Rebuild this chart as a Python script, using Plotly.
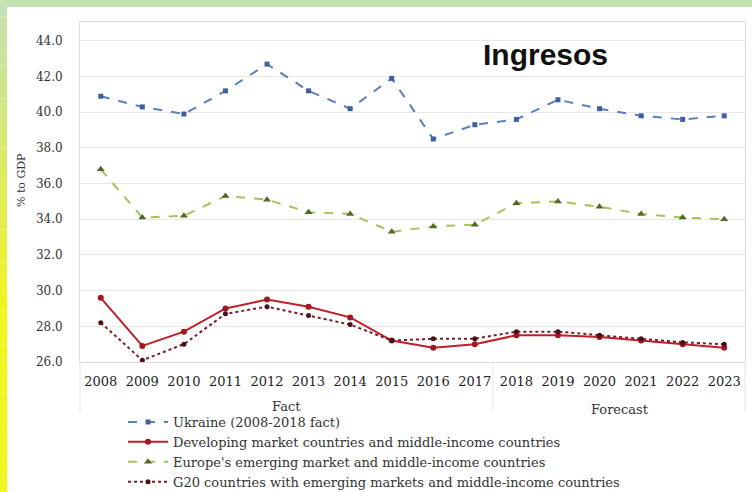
import plotly.graph_objects as go

years = list(range(2008, 2024))
ukraine = [40.9, 40.3, 39.9, 41.2, 42.7, 41.2, 40.2, 41.9, 38.5, 39.3, 39.6, 40.7, 40.2, 39.8, 39.6, 39.8]
developing = [29.6, 26.9, 27.7, 29.0, 29.5, 29.1, 28.5, 27.2, 26.8, 27.0, 27.5, 27.5, 27.4, 27.2, 27.0, 26.8]
europe = [36.8, 34.1, 34.2, 35.3, 35.1, 34.4, 34.3, 33.3, 33.6, 33.7, 34.9, 35.0, 34.7, 34.3, 34.1, 34.0]
g20 = [28.2, 26.1, 27.0, 28.7, 29.1, 28.6, 28.1, 27.2, 27.3, 27.3, 27.7, 27.7, 27.5, 27.3, 27.1, 27.0]
yticks = [26.0, 28.0, 30.0, 32.0, 34.0, 36.0, 38.0, 40.0, 42.0, 44.0]

W, H = 752, 492
L, R, T, B = 80, 7, 22, 130
pw, ph = W - L - R, H - T - B

def px(x):
    return (x - L) / pw

def py(y):
    return (H - B - y) / ph

serif = "DejaVu Serif, Liberation Serif, serif"
fig = go.Figure()
fig.add_trace(go.Scatter(x=years, y=ukraine, name="Ukraine (2008-2018 fact)", mode="lines+markers",
                         line=dict(color="#5b7fbf", width=2, dash="dash"),
                         marker=dict(symbol="square", size=5, color="#3f5f9f")))
fig.add_trace(go.Scatter(x=years, y=developing, name="Developing market countries and middle-income countries",
                         mode="lines+markers", line=dict(color="#c0202a", width=2),
                         marker=dict(symbol="circle", size=6, color="#a01820")))
fig.add_trace(go.Scatter(x=years, y=europe, name="Europe's emerging market and middle-income countries",
                         mode="lines+markers", line=dict(color="#a6c25a", width=2, dash="dash"),
                         marker=dict(symbol="triangle-up", size=7, color="#4f6a26")))
fig.add_trace(go.Scatter(x=years, y=g20, name="G20 countries with emerging markets and middle-income countries",
                         mode="lines+markers", line=dict(color="#7a1c28", width=2, dash="dot"),
                         marker=dict(symbol="circle", size=5, color="#4a1018")))

shapes = []
shapes.append(dict(type="rect", xref="paper", yref="paper", x0=px(0), x1=px(W), y0=py(7), y1=py(0),
                   fillcolor="#c5e2b4", line=dict(width=0)))
n = 30
c0 = (197, 226, 180)
c1 = (242, 244, 30)
for i in range(n):
    t = i / (n - 1)
    tt = min(1.0, t * 1.6)
    c = tuple(int(c0[k] + (c1[k] - c0[k]) * tt) for k in range(3))
    y0 = H * i / n
    y1 = H * (i + 1) / n
    shapes.append(dict(type="rect", xref="paper", yref="paper", x0=px(0), x1=px(7), y0=py(y1), y1=py(y0),
                       fillcolor="rgb(%d,%d,%d)" % c, line=dict(width=0)))
for xx in [80, 493, 745]:
    shapes.append(dict(type="line", xref="paper", yref="paper", x0=px(xx), x1=px(xx), y0=py(362), y1=py(412),
                       line=dict(color="#e4e4e4", width=1)))

def ann(text, x, y, size, family=serif, color="#333333", angle=0):
    return dict(text=text, x=px(x), y=py(y), xref="paper", yref="paper", showarrow=False,
                xanchor="center", yanchor="middle", textangle=angle,
                font=dict(family=family, size=size, color=color))

fig.update_layout(
    width=W, height=H,
    margin=dict(l=L, r=R, t=T, b=B, autoexpand=False),
    paper_bgcolor="white", plot_bgcolor="white",
    font=dict(family=serif, size=13, color="#333333"),
    shapes=shapes,
    showlegend=True,
    legend=dict(x=px(123), y=py(407), xanchor="left", yanchor="top", bgcolor="rgba(0,0,0,0)",
                font=dict(family=serif, size=13, color="#333333"), tracegroupgap=0, itemwidth=40,
                traceorder="normal"),
    annotations=[
        ann("<b>Ingresos</b>", 545, 54, 30, family="Liberation Sans, Arial, sans-serif", color="#111111"),
        ann("Fact", 286, 406, 13),
        ann("Forecast", 620, 409, 13),
        ann("% to GDP", 21, 180, 11, angle=-90),
    ],
)
fig.update_xaxes(range=[2007.5, 2023.5], tickmode="array", tickvals=years, ticktext=[str(y) for y in years],
                 showgrid=False, showline=True, linecolor="#dcdcdc", mirror=True, ticks="", zeroline=False,
                 automargin=False, ticklabelstandoff=7,
                 tickfont=dict(family=serif, size=13, color="#222222"))
fig.update_yaxes(range=[26, 45.06], tickmode="array", tickvals=yticks, ticktext=["%.1f" % v for v in yticks],
                 showgrid=True, gridcolor="#e8e8e8", showline=True, linecolor="#dcdcdc", mirror=True,
                 zeroline=False, ticks="", ticklabelstandoff=14, automargin=False,
                 tickfont=dict(family=serif, size=12, color="#333333"))

fig.write_html("out.html", config={"displayModeBar": False},
               post_script="document.body.style.margin='0px';document.body.style.overflow='hidden';")
